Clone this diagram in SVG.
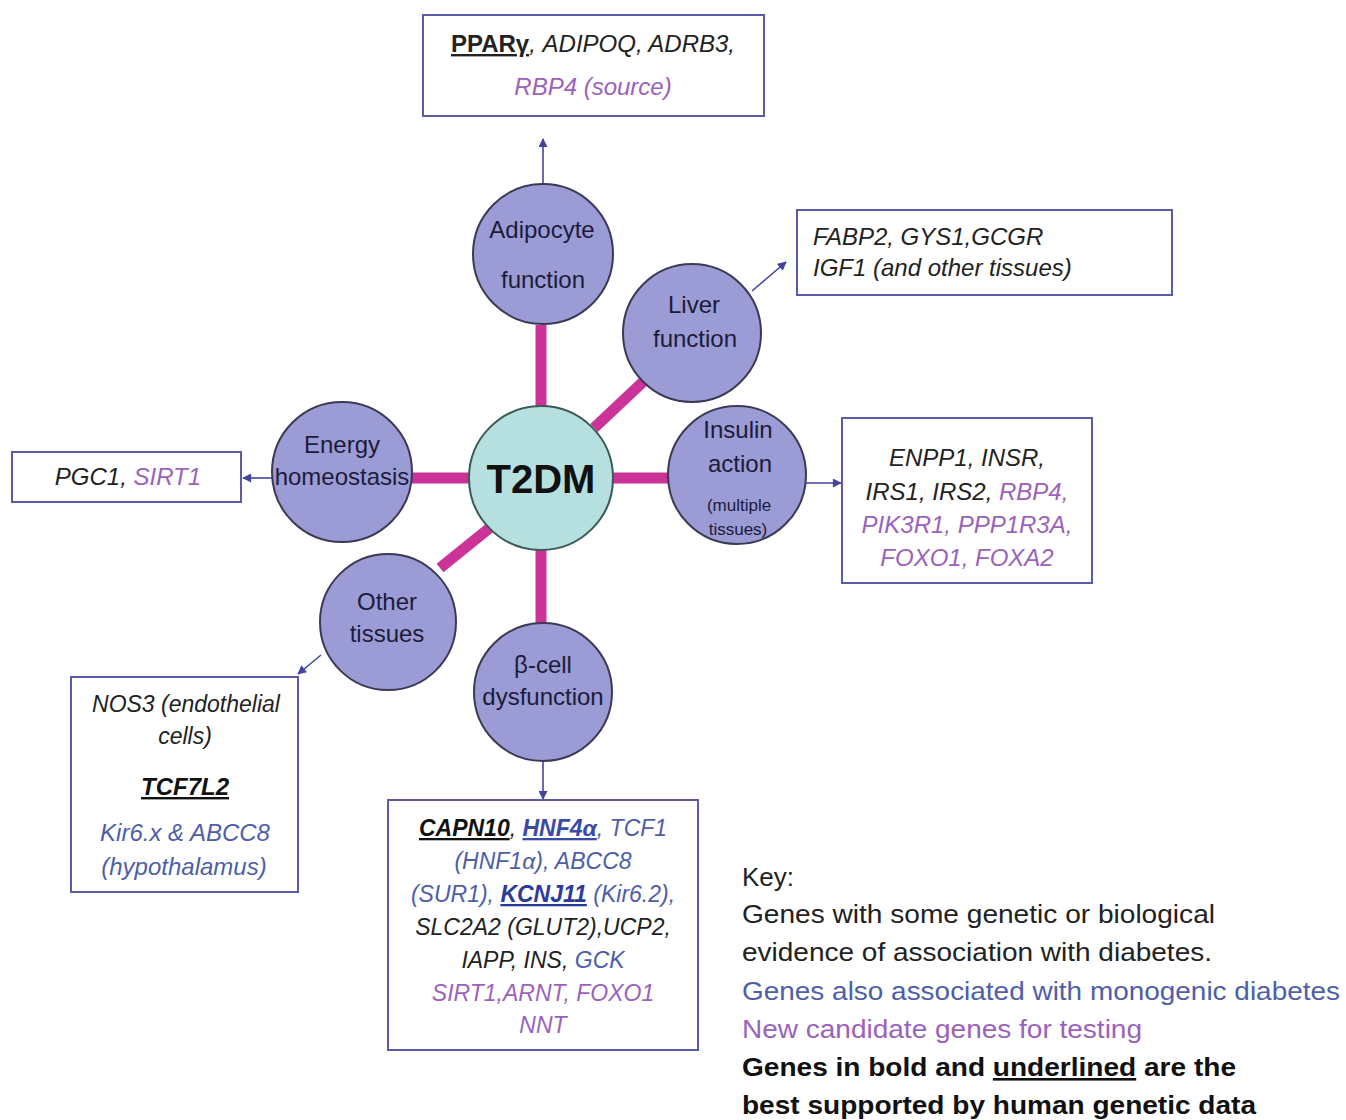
<svg xmlns="http://www.w3.org/2000/svg" width="1346" height="1120" viewBox="0 0 1346 1120">
<defs>
<marker id="ah" viewBox="0 0 10 10" refX="9" refY="5" markerWidth="10" markerHeight="9" markerUnits="userSpaceOnUse" orient="auto"><path d="M0,0 L10,5 L0,10 z" fill="#4444a0"/></marker>
<style>
.bx{fill:#fff;stroke:#5a5aa8;stroke-width:2}
.cir{fill:#9b9bd5;stroke:#3a3a55;stroke-width:2}
.ctr{fill:#b6e0e0;stroke:#3a5a55;stroke-width:2}
.lk{stroke:#cc3399;stroke-width:11;fill:none}
.ar{stroke:#4444a0;stroke-width:1.6;fill:none;marker-end:url(#ah)}
.ct{font-family:"Liberation Sans",Arial,sans-serif;font-size:24px;fill:#1c1c3a;text-anchor:middle}
.g{font-family:"Liberation Sans",Arial,sans-serif;font-size:24px;font-style:italic;fill:#222}
.k{font-family:"Liberation Sans",Arial,sans-serif;font-size:26px;fill:#222}
.bl{fill:#4e5ea8}
.pu{fill:#9a62bc}
.b{font-weight:bold;text-decoration:underline}
.m{text-anchor:middle}
</style>
</defs>
<rect width="1346" height="1120" fill="#fff"/>
<g id="connectors">
<line class="lk" x1="541" y1="325" x2="541" y2="407"/>
<line class="lk" x1="594" y1="428" x2="645" y2="380"/>
<line class="lk" x1="613" y1="478" x2="670" y2="478"/>
<line class="lk" x1="411" y1="478" x2="470" y2="478"/>
<line class="lk" x1="492" y1="526" x2="440" y2="568"/>
<line class="lk" x1="541" y1="549" x2="541" y2="624"/>
<line class="ar" x1="543" y1="184" x2="543" y2="139"/>
<line class="ar" x1="752" y1="291" x2="786" y2="262"/>
<line class="ar" x1="806" y1="483" x2="841" y2="483"/>
<line class="ar" x1="273" y1="478" x2="243" y2="478"/>
<line class="ar" x1="321" y1="655" x2="298" y2="674"/>
<line class="ar" x1="543" y1="762" x2="543" y2="799"/>
</g>
<g id="t2dm"><circle class="ctr" cx="541" cy="478" r="72"/><text class="ct" x="541" y="493" style="font-size:40px;font-weight:bold;fill:#111">T2DM</text></g>
<g id="adipocyte"><circle class="cir" cx="543" cy="254" r="70"/><text class="ct" x="542" y="238">Adipocyte</text><text class="ct" x="543" y="288">function</text></g>
<g id="liver"><circle class="cir" cx="692" cy="333" r="69"/><text class="ct" x="694" y="313">Liver</text><text class="ct" x="695" y="347">function</text></g>
<g id="insulin"><circle class="cir" cx="737" cy="475" r="69"/><text class="ct" x="738" y="438">Insulin</text><text class="ct" x="740" y="472">action</text><text class="ct" x="739" y="511" style="font-size:17px">(multiple</text><text class="ct" x="738" y="535" style="font-size:17px">tissues)</text></g>
<g id="energy"><circle class="cir" cx="342" cy="472" r="70"/><text class="ct" x="342" y="453">Energy</text><text class="ct" x="342" y="485">homeostasis</text></g>
<g id="other"><circle class="cir" cx="388" cy="622" r="68"/><text class="ct" x="387" y="610">Other</text><text class="ct" x="387" y="642">tissues</text></g>
<g id="beta"><circle class="cir" cx="543" cy="692" r="69"/><text class="ct" x="543" y="673">β-cell</text><text class="ct" x="543" y="705">dysfunction</text></g>
<g id="box-adipocyte"><rect class="bx" x="423" y="15" width="341" height="101"/>
<text class="g m" x="593" y="52"><tspan class="b" style="font-style:normal">PPARγ</tspan>, ADIPOQ, ADRB3,</text>
<text class="g m pu" x="593" y="95">RBP4 (source)</text></g>
<g id="box-liver"><rect class="bx" x="797" y="210" width="375" height="85"/>
<text class="g" x="813" y="245">FABP2, GYS1,GCGR</text>
<text class="g" x="813" y="276">IGF1 (and other tissues)</text></g>
<g id="box-insulin"><rect class="bx" x="842" y="418" width="250" height="165"/>
<text class="g m" x="967" y="466">ENPP1,  INSR,</text>
<text class="g m" x="967" y="500">IRS1, IRS2, <tspan class="pu">RBP4,</tspan></text>
<text class="g m pu" x="967" y="533">PIK3R1, PPP1R3A,</text>
<text class="g m pu" x="967" y="566">FOXO1, FOXA2</text></g>
<g id="box-energy"><rect class="bx" x="12" y="452" width="229" height="50"/>
<text class="g m" x="128" y="485">PGC1, <tspan class="pu">SIRT1</tspan></text></g>
<g id="box-other"><rect class="bx" x="71" y="677" width="227" height="215"/>
<text class="g m" x="186" y="712" style="font-size:23px">NOS3 (endothelial</text>
<text class="g m" x="185" y="744" style="font-size:23px">cells)</text>
<text class="g m" x="185" y="795"><tspan class="b" style="fill:#111">TCF7L2</tspan></text>
<text class="g m bl" x="185" y="841">Kir6.x &amp; ABCC8</text>
<text class="g m bl" x="184" y="875">(hypothalamus)</text></g>
<g id="box-beta"><rect class="bx" x="388" y="800" width="310" height="250"/>
<text class="g m" x="543" y="836" style="font-size:23px"><tspan class="b" style="fill:#111">CAPN10</tspan>, <tspan class="b" style="fill:#3a4aa8">HNF4α</tspan><tspan class="bl">, TCF1</tspan></text>
<text class="g m bl" x="543" y="869" style="font-size:23px">(HNF1α), ABCC8</text>
<text class="g m bl" x="543" y="902" style="font-size:23px">(SUR1), <tspan class="b" style="fill:#2a3a9a">KCNJ11</tspan> (Kir6.2),</text>
<text class="g m" x="543" y="935" style="font-size:23px">SLC2A2 (GLUT2),UCP2,</text>
<text class="g m" x="543" y="968" style="font-size:23px">IAPP, INS, <tspan class="bl">GCK</tspan></text>
<text class="g m pu" x="543" y="1001" style="font-size:23px">SIRT1,ARNT, FOXO1</text>
<text class="g m pu" x="543" y="1033" style="font-size:23px">NNT</text></g>
<g id="key">
<text class="k" x="742" y="886">Key:</text>
<text class="k" x="742" y="923" textLength="473" lengthAdjust="spacingAndGlyphs">Genes with some genetic or biological</text>
<text class="k" x="742" y="961" textLength="470" lengthAdjust="spacingAndGlyphs">evidence of association with diabetes.</text>
<text class="k bl" x="742" y="1000" textLength="598" lengthAdjust="spacingAndGlyphs">Genes also associated with monogenic diabetes</text>
<text class="k pu" x="742" y="1038" textLength="400" lengthAdjust="spacingAndGlyphs">New candidate genes for testing</text>
<text class="k" x="742" y="1076" style="font-weight:bold;fill:#111" textLength="494" lengthAdjust="spacingAndGlyphs">Genes in bold and <tspan style="text-decoration:underline">underlined</tspan> are the</text>
<text class="k" x="742" y="1114" style="font-weight:bold;fill:#111" textLength="514" lengthAdjust="spacingAndGlyphs">best supported by human genetic data</text>
</g>
</svg>
